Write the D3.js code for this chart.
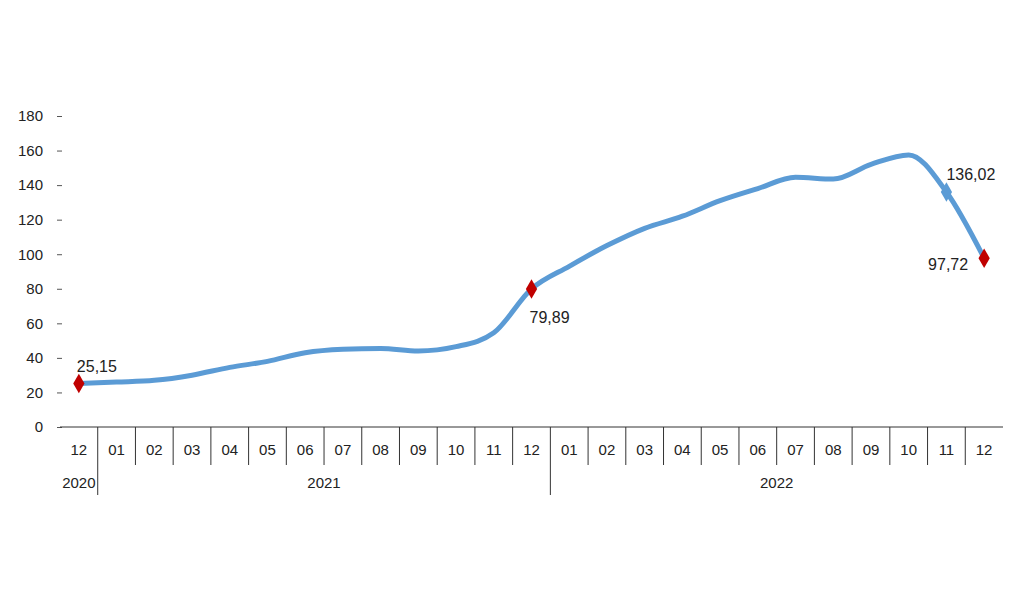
<!DOCTYPE html>
<html><head><meta charset="utf-8">
<script src="https://cdn.jsdelivr.net/npm/d3@7"></script>
<style>body{margin:0;background:#fff;font-family:"Liberation Sans",Arial,sans-serif}</style>
</head><body><svg id="c" width="1024" height="607"></svg>
<script>
const months = ["12","01","02","03","04","05","06","07","08","09","10","11","12","01","02","03","04","05","06","07","08","09","10","11","12"];
const values = [25.15,26,27,30,34.5,38,43,45,45.5,44,46.5,54.5,79.89,93,105,115,122,131,138,144.5,143.5,152,157.5,136.02,97.72];
const years = [{label:"2020",from:0,to:0},{label:"2021",from:1,to:12},{label:"2022",from:13,to:24}];
const yTicks = [0,20,40,60,80,100,120,140,160,180];
const marked = [{i:0,c:"#c00000",t:"25,15",dx:-2,dy:-12,a:"start"},{i:12,c:"#c00000",t:"79,89",dx:-2,dy:34,a:"start"},{i:23,c:"#5b9bd5",t:"136,02",dx:0,dy:-12,a:"start"},{i:24,c:"#c00000",t:"97,72",dx:-16,dy:12,a:"end"}];

const svg = d3.select("#c");
const x = d3.scaleBand().domain(d3.range(months.length)).range([60,1003]);
const y = d3.scaleLinear().domain([0,180]).range([427,116]);
const cx = i => x(i)+x.bandwidth()/2;

const ya = svg.append("g").attr("transform","translate(62,0)")
  .call(d3.axisLeft(y).tickValues(yTicks).tickSize(5).tickPadding(14));
ya.select(".domain").remove();
ya.selectAll("text").attr("font-size",15).attr("fill","#222").attr("font-family","Liberation Sans, Arial");
ya.selectAll("line").attr("stroke","#555");

svg.append("line").attr("x1",60).attr("x2",1003).attr("y1",427).attr("y2",427).attr("stroke","#333");
months.forEach((m,i)=>{
  const edge = x(i)+x.bandwidth();
  const long = i===0||i===12;
  if(i<months.length-1) svg.append("line").attr("x1",edge).attr("x2",edge).attr("y1",427).attr("y2",long?495:465).attr("stroke","#333");
  svg.append("text").attr("x",cx(i)).attr("y",455).attr("text-anchor","middle").attr("font-size",15).attr("fill","#222").text(m);
});
years.forEach(yr=>{
  svg.append("text").attr("x",(cx(yr.from)+cx(yr.to))/2).attr("y",488).attr("text-anchor","middle").attr("font-size",15).attr("fill","#222").text(yr.label);
});

svg.append("path").datum(values)
  .attr("d",d3.line().x((d,i)=>cx(i)).y(d=>y(d)).curve(d3.curveMonotoneX))
  .attr("fill","none").attr("stroke","#5b9bd5").attr("stroke-width",5).attr("stroke-linejoin","round");

marked.forEach(m=>{
  svg.append("path").attr("d",d3.symbol(d3.symbolDiamond,110)())
    .attr("transform",`translate(${cx(m.i)},${y(values[m.i])})`).attr("fill",m.c);
  svg.append("text").attr("x",cx(m.i)+m.dx).attr("y",y(values[m.i])+m.dy).attr("text-anchor",m.a)
    .attr("font-size",16).attr("fill","#222").text(m.t);
});
</script></body></html>
